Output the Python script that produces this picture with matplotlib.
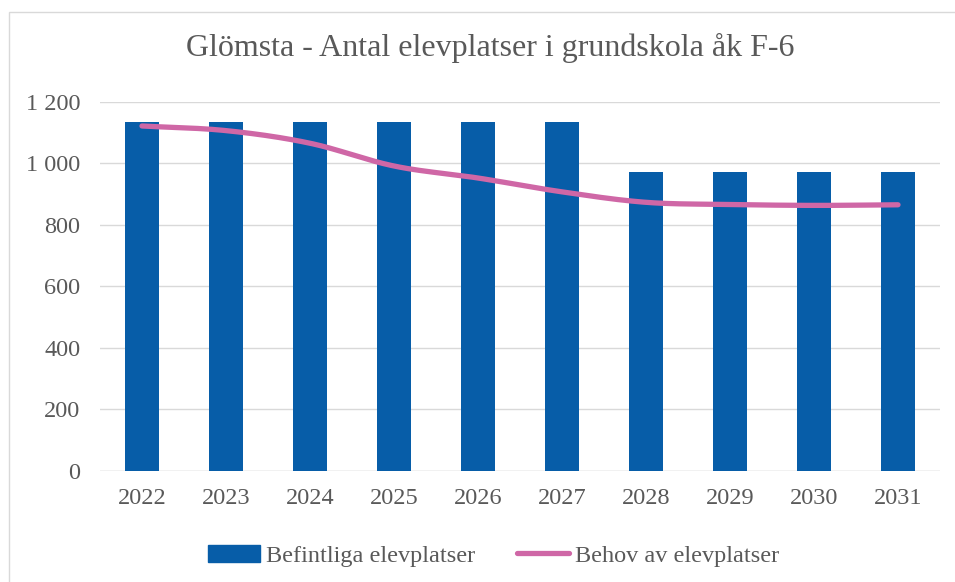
import numpy as np
import matplotlib
matplotlib.use("Agg")
import matplotlib.pyplot as plt
from matplotlib.patches import Rectangle
from matplotlib.lines import Line2D
from matplotlib.ticker import FuncFormatter

years = ["2022", "2023", "2024", "2025", "2026", "2027", "2028", "2029", "2030", "2031"]
befintliga = [1133, 1133, 1133, 1133, 1133, 1133, 971, 971, 971, 971]
behov = [1121, 1106, 1065, 991, 952, 907, 873, 866, 863, 865]

title = "Glömsta - Antal elevplatser i grundskola åk F-6"
bar_label = "Befintliga elevplatser"
line_label = "Behov av elevplatser"

BAR = "#075DA8"
LINE = "#CF67A6"
GRID = "#D9D9D9"
TEXT = "#595959"

plt.rcParams["font.family"] = ["Liberation Serif", "DejaVu Serif"]


def smooth(xs, ys, n=30):
    # Catmull-Rom style curve through the points (as in smoothed office line charts)
    xs = np.asarray(xs, float)
    ys = np.asarray(ys, float)
    px = np.concatenate([[2 * xs[0] - xs[1]], xs, [2 * xs[-1] - xs[-2]]])
    py = np.concatenate([[2 * ys[0] - ys[1]], ys, [2 * ys[-1] - ys[-2]]])
    ox, oy = [], []
    for i in range(1, len(px) - 2):
        t = np.linspace(0, 1, n, endpoint=False)
        for arr, out in ((px, ox), (py, oy)):
            p0, p1, p2, p3 = arr[i - 1], arr[i], arr[i + 1], arr[i + 2]
            out.extend(0.5 * ((2 * p1) + (-p0 + p2) * t
                              + (2 * p0 - 5 * p1 + 4 * p2 - p3) * t ** 2
                              + (-p0 + 3 * p1 - 3 * p2 + p3) * t ** 3))
    ox.append(xs[-1])
    oy.append(ys[-1])
    return np.array(ox), np.array(oy)


fig = plt.figure(figsize=(9.55, 5.82), dpi=100)
# chart-area frame (left and top edges fall inside the image)
fig.patches.append(Rectangle((8.5 / 955, -0.05), 1.1, 1.05 - 11.5 / 582 + 0.0,
                             transform=fig.transFigure, fill=False,
                             edgecolor="#D9D9D9", linewidth=1.0))

ax = fig.add_axes([0.1047, 0.1907, 0.8796, 0.6346])
x = np.arange(len(years))
ax.bar(x, befintliga, width=0.4, color=BAR, zorder=2)
sx, sy = smooth(x, behov)
ax.plot(sx, sy, color=LINE, linewidth=3.8, solid_capstyle="round", zorder=3)

ax.set_xlim(-0.5, len(years) - 0.5)
ax.set_ylim(0, 1200)
ax.set_yticks(range(0, 1201, 200))
ax.yaxis.set_major_formatter(FuncFormatter(lambda v, p: f"{int(v):,}".replace(",", " ")))
ax.set_xticks(x)
ax.set_xticklabels(years)
ax.grid(axis="y", color=GRID, linewidth=1.0, zorder=0)
for s in ax.spines.values():
    s.set_visible(False)
ax.axhline(0, color=GRID, linewidth=1.0, zorder=1)
ax.tick_params(axis="both", length=0, labelsize=17.5, colors=TEXT)
ax.tick_params(axis="y", pad=14)
ax.tick_params(axis="x", pad=12)

fig.text(0.513, 0.917, title, ha="center", va="center", fontsize=23, color=TEXT)

handles = [Rectangle((0, 0), 1, 1, color=BAR),
           Line2D([0], [0], color=LINE, linewidth=3.8, solid_capstyle="round")]
fig.legend(handles, [bar_label, line_label], loc="center", bbox_to_anchor=(0.517, 0.045),
           ncol=2, frameon=False, fontsize=17.5, labelcolor=TEXT,
           handlelength=2.14, handletextpad=0.25, columnspacing=1.7)

fig.savefig("out.png", dpi=100)
